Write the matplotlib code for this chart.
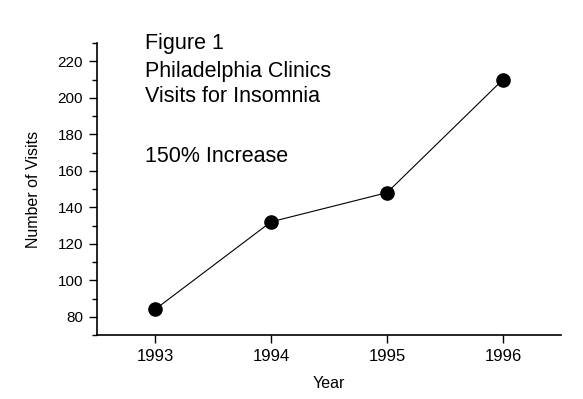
import matplotlib
matplotlib.use("Agg")
import matplotlib.pyplot as plt
from matplotlib.ticker import MultipleLocator

years = [1993, 1994, 1995, 1996]
visits = [84, 132, 148, 210]
y_ticks = [80, 100, 120, 140, 160, 180, 200, 220]
title_lines = ["Figure 1", "Philadelphia Clinics", "Visits for Insomnia"]
note = "150% Increase"

plt.rcParams['font.family'] = ['Liberation Sans', 'DejaVu Sans']

fig = plt.figure(figsize=(5.83, 3.99), dpi=100)
ax = fig.add_axes([0.1664, 0.1604, 0.7959, 0.7318])
ax.plot(years, visits, color='black', lw=0.8, marker='o', markersize=9.5,
        markerfacecolor='black', markeredgecolor='black')
ax.set_xlim(1992.5, 1996.5)
ax.set_ylim(70, 230)
ax.set_xticks(years)
ax.set_xticklabels([str(y) for y in years])
ax.set_yticks(y_ticks)
ax.yaxis.set_minor_locator(MultipleLocator(10))
for s in ['top', 'right']:
    ax.spines[s].set_visible(False)
for s in ['left', 'bottom']:
    ax.spines[s].set_linewidth(1.2)
ax.tick_params(axis='both', which='major', length=6, width=1, pad=4)
ax.tick_params(axis='x', which='major', labelsize=12)
ax.tick_params(axis='y', which='major', labelsize=11)
ax.tick_params(axis='y', which='minor', length=3.5, width=1)
ax.set_xlabel("Year", fontsize=11.5, labelpad=9)
ax.set_ylabel("Number of Visits", fontsize=11.5, labelpad=12)

ys = [43, 72, 97]
for t, y in zip(title_lines, ys):
    fig.text(145/583, 1 - y/399, t, fontsize=15.5, va='center', ha='left')
fig.text(145/583, 1 - 157/399, note, fontsize=15.5, va='center', ha='left')

fig.savefig("out.png", dpi=100)
